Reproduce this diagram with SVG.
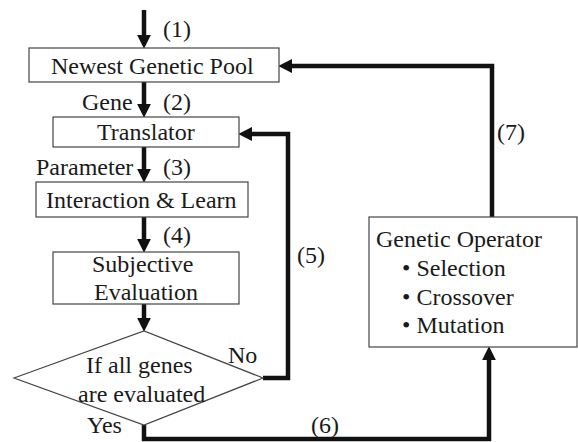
<svg xmlns="http://www.w3.org/2000/svg" width="578" height="442" viewBox="0 0 578 442">
<style>
text{font-size:24px;fill:#1a1a1a}
.box{fill:#fff;stroke:#444;stroke-width:1.2}
.wire{fill:none;stroke:#111;stroke-width:4.5;stroke-linejoin:miter}
</style>
<defs>
<marker id="ah" markerUnits="userSpaceOnUse" markerWidth="14" markerHeight="14" refX="3" refY="6.5" orient="auto" viewBox="0 0 13 13">
<path d="M0,0 L13,6.5 L0,13 z" fill="#111"/>
</marker>
</defs>
<rect width="578" height="442" fill="#fff"/>
<g font-family="'Liberation Serif', Tinos, 'Times New Roman', 'DejaVu Serif', serif">
<g id="connectors">
<line class="wire" x1="144" y1="10" x2="144" y2="38" marker-end="url(#ah)"/>
<line class="wire" x1="144" y1="82" x2="144" y2="107" marker-end="url(#ah)"/>
<line class="wire" x1="144" y1="147" x2="144" y2="172" marker-end="url(#ah)"/>
<line class="wire" x1="144" y1="217" x2="144" y2="242" marker-end="url(#ah)"/>
<line class="wire" x1="144" y1="304" x2="144" y2="321" marker-end="url(#ah)"/>
<polyline class="wire" points="263,378 288,378 288,134 249,134" marker-end="url(#ah)"/>
<polyline class="wire" points="144,425 144,439 489,439 489,357" marker-end="url(#ah)"/>
<polyline class="wire" points="492,217 492,66 289,66" marker-end="url(#ah)"/>
<text x="163" y="37">(1)</text>
<text x="82" y="110">Gene</text>
<text x="163" y="110">(2)</text>
<text x="36" y="175">Parameter</text>
<text x="163" y="175">(3)</text>
<text x="163" y="243">(4)</text>
<text x="297" y="263">(5)</text>
<text x="311" y="433">(6)</text>
<text x="497" y="140">(7)</text>
<text x="228" y="363">No</text>
<text x="87" y="433">Yes</text>
</g>
<g id="pool">
<rect class="box" x="29" y="48" width="250" height="34"/>
<text x="51" y="74">Newest Genetic Pool</text>
</g>
<g id="translator">
<rect class="box" x="53" y="117" width="186" height="30"/>
<text x="97" y="140">Translator</text>
</g>
<g id="interaction">
<rect class="box" x="36" y="182" width="212" height="35"/>
<text x="46" y="208">Interaction &amp; Learn</text>
</g>
<g id="evaluation">
<rect class="box" x="53" y="252" width="186" height="52"/>
<text x="92" y="272">Subjective</text>
<text x="94" y="300">Evaluation</text>
</g>
<g id="decision">
<polygon class="box" points="14,378 144,331 263,378 144,425"/>
<text x="86" y="373">If all genes</text>
<text x="78" y="402">are evaluated</text>
</g>
<g id="operator">
<rect class="box" x="369" y="217" width="208" height="130"/>
<text x="376" y="247">Genetic Operator</text>
<text x="402" y="276">• Selection</text>
<text x="402" y="305">• Crossover</text>
<text x="402" y="333">• Mutation</text>
</g>
</g>
</svg>
